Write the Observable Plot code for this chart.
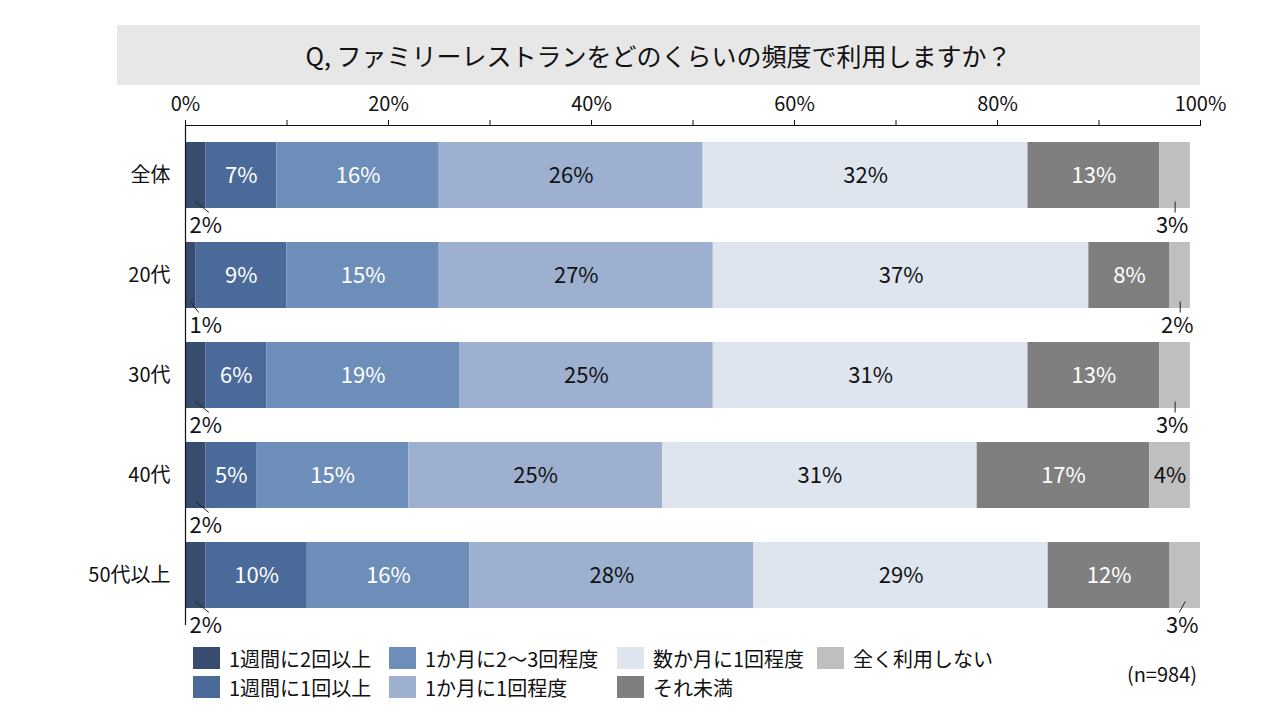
<!DOCTYPE html>
<html>
<head>
<meta charset="utf-8">
<script src="https://cdn.jsdelivr.net/npm/d3@7"></script>
<script src="https://cdn.jsdelivr.net/npm/@observablehq/plot@0.6"></script>
<style>
  body { margin: 0; background: #fff; font-family: "Noto Sans CJK JP", "Noto Sans", sans-serif; }
  #wrap { position: relative; width: 1280px; height: 720px; overflow: hidden; }
  #title { position: absolute; left: 117px; top: 25px; width: 1083px; height: 60px; background: #e7e7e7;
           display: flex; align-items: center; justify-content: center; font-size: 25px; color: #111; }
  #chart { position: absolute; left: 0; top: 85px; }
  #legend { position: absolute; left: 193px; top: 646px; display: grid; grid-auto-flow: column;
            grid-template-rows: 29px 29px; grid-template-columns: 196px 228px 200px 200px; font-size: 20px; color: #111; }
  .item { display: flex; align-items: center; height: 24px; white-space: nowrap; }
  .sw { width: 27px; height: 22px; margin-right: 9px; flex: none; }
  #note { position: absolute; right: 83px; top: 659px; font-size: 20px; color: #111; }
</style>
</head>
<body>
<div id="wrap">
  <div id="title">Q, ファミリーレストランをどのくらいの頻度で利用しますか？</div>
  <div id="chart"></div>
  <div id="legend"></div>
  <div id="note">(n=984)</div>
</div>
<script>
const categories = ["全体", "20代", "30代", "40代", "50代以上"];
const series = ["1週間に2回以上", "1週間に1回以上", "1か月に2〜3回程度", "1か月に1回程度", "数か月に1回程度", "それ未満", "全く利用しない"];
const colors = ["#374c6e", "#4a6a9a", "#6e8eba", "#9db0cf", "#dee5ef", "#7f7f7f", "#bfbfbf"];
const weekly2   = [2, 1, 2, 2, 2];
const weekly1   = [7, 9, 6, 5, 10];
const monthly23 = [16, 15, 19, 15, 16];
const monthly1  = [26, 27, 25, 25, 28];
const fewMonths = [32, 37, 31, 31, 29];
const lessOften = [13, 8, 13, 17, 12];
const never     = [3, 2, 3, 4, 3];
const xTicks = [0, 10, 20, 30, 40, 50, 60, 70, 80, 90, 100];

const seriesValues = [weekly2, weekly1, monthly23, monthly1, fewMonths, lessOften, never];
const rows = [];
categories.forEach((c, i) => {
  let acc = 0;
  seriesValues.forEach((vals, s) => {
    const v = vals[i];
    rows.push({cat: c, i, s, series: series[s], v, x1: acc, x2: acc + v, mid: acc + v / 2});
    acc += v;
  });
});
const whiteText = new Set([0, 1, 2, 5]);
const inside = rows.filter(d => d.v >= 4);
const outsideLeft = rows.filter(d => d.v < 4 && d.s === 0);
const outsideRight = rows.filter(d => d.v < 4 && d.s === series.length - 1);
const half = 0.33;

const chart = Plot.plot({
  width: 1280,
  height: 555,
  marginLeft: 185,
  marginRight: 80,
  marginTop: 40,
  marginBottom: 15,
  style: {fontFamily: '"Noto Sans CJK JP", "Noto Sans", sans-serif', color: "#111", background: "transparent", overflow: "visible"},
  x: {domain: [0, 100], label: null},
  y: {domain: [-0.5, 4.5], reverse: true, label: null},
  color: {domain: series, range: colors},
  marks: [
    Plot.rectX(rows, {x1: "x1", x2: "x2", y1: d => d.i - half, y2: d => d.i + half, fill: "series"}),
    Plot.text(inside.filter(d => whiteText.has(d.s)), {x: "mid", y: "i", text: d => d.v + "%", fill: "white", fontSize: 22}),
    Plot.text(inside.filter(d => !whiteText.has(d.s)), {x: "mid", y: "i", text: d => d.v + "%", fill: "#111", fontSize: 22}),
    Plot.link(outsideLeft, {x1: "mid", x2: d => d.x2 + 0.3, y1: d => d.i + half - 0.07, y2: d => d.i + half + 0.04, stroke: "#222", strokeWidth: 1}),
    Plot.text(outsideLeft, {x: "x1", y: d => d.i + 0.5, text: d => d.v + "%", textAnchor: "start", dx: 4, fill: "#111", fontSize: 22}),
    Plot.link(outsideRight, {x1: "mid", x2: d => d.mid - 0.1 * (d.i === 4 ? 6 : 0), y1: d => d.i + half - 0.07, y2: d => d.i + half + 0.04, stroke: "#222", strokeWidth: 1}),
    Plot.text(outsideRight, {x: "mid", y: d => d.i + 0.5, text: d => d.v + "%", dx: -3, fill: "#111", fontSize: 22}),
    Plot.ruleY([-0.5], {stroke: "#111", strokeWidth: 1.2}),
    Plot.ruleX([0], {stroke: "#111", strokeWidth: 1.2}),
    Plot.axisX({anchor: "top", ticks: xTicks, tickSize: 6, tickPadding: 9, fontSize: 20,
                tickFormat: d => d % 20 === 0 ? d + "%" : "", label: null}),
    Plot.axisY({ticks: [0, 1, 2, 3, 4], tickFormat: i => categories[i], tickSize: 0, tickPadding: 15, fontSize: 20, label: null})
  ]
});
document.getElementById("chart").appendChild(chart);

const legend = document.getElementById("legend");
series.forEach((s, k) => {
  const item = document.createElement("div");
  item.className = "item";
  const sw = document.createElement("span");
  sw.className = "sw";
  sw.style.background = colors[k];
  const t = document.createElement("span");
  t.textContent = s;
  item.appendChild(sw);
  item.appendChild(t);
  legend.appendChild(item);
});
</script>
</body>
</html>
